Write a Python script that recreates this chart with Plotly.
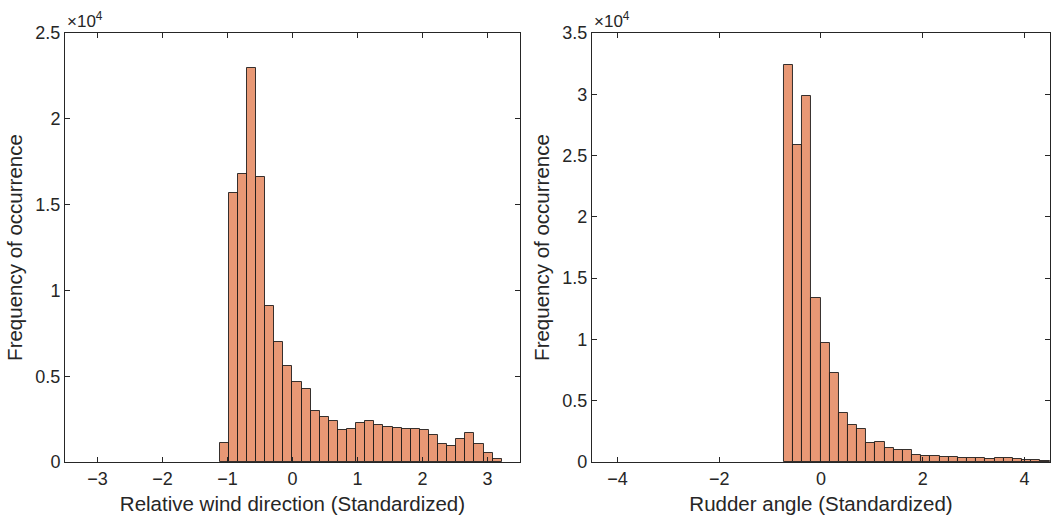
import plotly.graph_objects as go

# Histogram counts (bin counts read as frequencies)
wind_bin_start = -1.12
wind_bin_width = 0.14
wind_counts = [1110, 15700, 16810, 22980, 16580, 9100, 7020, 5580, 4690, 4240,
               3000, 2650, 2370, 1890, 1950, 2280, 2410, 2140, 2060, 2000,
               1910, 1910, 1890, 1600, 1050, 950, 1320, 1710, 1050, 510, 180]

rudder_bin_start = -0.73
rudder_bin_width = 0.18
rudder_counts = [32390, 25890, 29850, 13380, 9690, 7260, 3990, 3020, 2720, 1590,
                 1640, 1105, 940, 1020, 590, 460, 510, 380, 380, 320,
                 300, 300, 215, 300, 320, 215, 160, 135, 55]

wind_ticks = [-3, -2, -1, 0, 1, 2, 3]
rudder_ticks = [-4, -2, 0, 2, 4]
wind_yticks = [0, 5000, 10000, 15000, 20000, 25000]
wind_ytext = ["0", "0.5", "1", "1.5", "2", "2.5"]
rudder_yticks = [0, 5000, 10000, 15000, 20000, 25000, 30000, 35000]
rudder_ytext = ["0", "0.5", "1", "1.5", "2", "2.5", "3", "3.5"]

FACE = "rgb(232,152,117)"
EDGE = "rgba(20,20,20,0.85)"
INK = "#262626"
FONT = "Liberation Sans, Arial, sans-serif"


def centers(start, width, n):
    return [start + width * (i + 0.5) for i in range(n)]


fig = go.Figure()
fig.add_trace(go.Bar(
    x=centers(wind_bin_start, wind_bin_width, len(wind_counts)),
    y=wind_counts, width=wind_bin_width,
    marker=dict(color=FACE, line=dict(color=EDGE, width=1)),
    xaxis="x", yaxis="y", showlegend=False, hoverinfo="x+y",
))
fig.add_trace(go.Bar(
    x=centers(rudder_bin_start, rudder_bin_width, len(rudder_counts)),
    y=rudder_counts, width=rudder_bin_width,
    marker=dict(color=FACE, line=dict(color=EDGE, width=1)),
    xaxis="x2", yaxis="y2", showlegend=False, hoverinfo="x+y",
))

axis_common = dict(
    showline=True, linecolor=INK, linewidth=1, mirror="ticks",
    ticks="inside", ticklen=5, tickcolor=INK, tickwidth=1,
    showgrid=False, zeroline=False,
    tickfont=dict(family=FONT, size=18, color=INK),
)
title_font = dict(family=FONT, size=20.5, color=INK)

fig.update_layout(
    width=1053, height=522,
    margin=dict(l=65, r=3, t=33, b=60),
    paper_bgcolor="white", plot_bgcolor="white",
    bargap=0,
    xaxis=dict(domain=[0, 0.4619], range=[-3.5, 3.5], tickvals=wind_ticks,
               title=dict(text="Relative wind direction (Standardized)", font=title_font, standoff=9),
               anchor="y", **axis_common),
    yaxis=dict(domain=[0, 1], range=[0, 25000], tickvals=wind_yticks, ticktext=wind_ytext,
               title=dict(text="Frequency of occurrence", font=title_font, standoff=7),
               anchor="x", **axis_common),
    xaxis2=dict(domain=[0.535, 1], range=[-4.5, 4.5], tickvals=rudder_ticks,
                title=dict(text="Rudder angle (Standardized)", font=title_font, standoff=9),
                anchor="y2", **axis_common),
    yaxis2=dict(domain=[0, 1], range=[0, 35000], tickvals=rudder_yticks, ticktext=rudder_ytext,
                title=dict(text="Frequency of occurrence", font=title_font, standoff=7),
                anchor="x2", **axis_common),
    annotations=[
        dict(text="×10<sup>4</sup>", xref="x domain", yref="y domain", x=0.0, y=1.0,
             xanchor="left", yanchor="bottom", showarrow=False, xshift=0,
             font=dict(family=FONT, size=17, color=INK)),
        dict(text="×10<sup>4</sup>", xref="x2 domain", yref="y2 domain", x=0.0, y=1.0,
             xanchor="left", yanchor="bottom", showarrow=False, xshift=0,
             font=dict(family=FONT, size=17, color=INK)),
    ],
)

fig.write_html("out.html")
